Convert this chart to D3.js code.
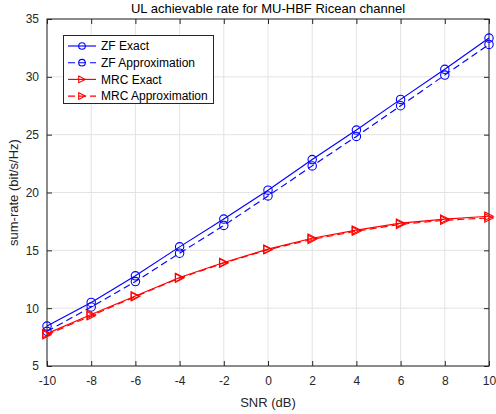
<!DOCTYPE html>
<html>
<head>
<meta charset="utf-8">
<title>UL achievable rate</title>
<style>
body { margin: 0; background: #fff; }
svg { display: block; font-family: "Liberation Sans", Arial, sans-serif; }
</style>
</head>
<body>
<div id="chart"></div>
<script src="https://d3js.org/d3.v7.min.js"></script>
<script>
// data
var snr = [-10, -8, -6, -4, -2, 0, 2, 4, 6, 8, 10];
var zfExact  = [8.45, 10.5, 12.8, 15.3, 17.7, 20.2, 22.85, 25.4, 28.05, 30.65, 33.35];
var zfApprox = [8.0, 10.1, 12.3, 14.75, 17.15, 19.7, 22.3, 24.85, 27.5, 30.15, 32.8];
var mrcExact  = [7.8, 9.45, 11.05, 12.65, 13.95, 15.1, 16.05, 16.75, 17.35, 17.7, 17.95];
var mrcApprox = [7.7, 9.35, 11.0, 12.6, 13.9, 15.05, 15.95, 16.65, 17.25, 17.6, 17.8];
var xTicks = [-10, -8, -6, -4, -2, 0, 2, 4, 6, 8, 10];
var yTicks = [5, 10, 15, 20, 25, 30, 35];

var series = [
  { name: "ZF Exact", values: zfExact, color: "#0000ff", dash: null, marker: "circle" },
  { name: "ZF Approximation", values: zfApprox, color: "#0000ff", dash: "7,4", marker: "circle" },
  { name: "MRC Exact", values: mrcExact, color: "#ff0000", dash: null, marker: "tri" },
  { name: "MRC Approximation", values: mrcApprox, color: "#ff0000", dash: "7,4", marker: "tri" }
];

var W = 496, H = 414;
var pL = 47, pR = 489, pT = 19, pB = 366;

var svg = d3.select("#chart").append("svg")
  .attr("width", W).attr("height", H);

var x = d3.scaleLinear().domain([-10, 10]).range([pL, pR]);
var y = d3.scaleLinear().domain([5, 35]).range([pB, pT]);

// grid
var grid = svg.append("g").attr("stroke", "#e3e3e3").attr("stroke-width", 1);
xTicks.forEach(function(t) {
  grid.append("line").attr("x1", x(t)).attr("x2", x(t)).attr("y1", pT).attr("y2", pB);
});
yTicks.forEach(function(t) {
  grid.append("line").attr("x1", pL).attr("x2", pR).attr("y1", y(t)).attr("y2", y(t));
});

// axes (ticks inside, box on all sides)
var axisColor = "#262626";
var fmt = function(d) { return String(d); };
function styleAxis(g) {
  g.select(".domain").remove();
  g.selectAll(".tick line").attr("stroke", axisColor);
  g.selectAll(".tick text").attr("fill", "#262626").style("font-size", "12px")
    .style("font-family", "Liberation Sans, Arial, sans-serif");
}
svg.append("g").attr("transform", "translate(0," + pB + ")")
  .call(d3.axisBottom(x).tickValues(xTicks).tickSize(-5).tickPadding(10).tickFormat(fmt))
  .call(styleAxis);
svg.append("g").attr("transform", "translate(0," + pT + ")")
  .call(d3.axisTop(x).tickValues(xTicks).tickSize(-5).tickFormat(""))
  .call(styleAxis);
svg.append("g").attr("transform", "translate(" + pL + ",0)")
  .call(d3.axisLeft(y).tickValues(yTicks).tickSize(-5).tickPadding(8).tickFormat(fmt))
  .call(styleAxis);
svg.append("g").attr("transform", "translate(" + pR + ",0)")
  .call(d3.axisRight(y).tickValues(yTicks).tickSize(-5).tickFormat(""))
  .call(styleAxis);
svg.append("rect").attr("x", pL).attr("y", pT)
  .attr("width", pR - pL).attr("height", pB - pT)
  .attr("fill", "none").attr("stroke", axisColor).attr("stroke-width", 1);

// lines and markers
var line = d3.line().x(function(d, i) { return x(snr[i]); }).y(function(d) { return y(d); });

function drawMarker(g, type, cx, cy, color, size) {
  if (type === "circle") {
    g.append("circle").attr("cx", cx).attr("cy", cy).attr("r", size)
      .attr("fill", "none").attr("stroke", color).attr("stroke-width", 1.1);
  } else {
    var s = size;
    g.append("path")
      .attr("d", "M" + (cx - s) + "," + (cy - s) + "L" + (cx + s) + "," + cy + "L" + (cx - s) + "," + (cy + s) + "Z")
      .attr("fill", "none").attr("stroke", color).attr("stroke-width", 1.1);
  }
}

var plot = svg.append("g");
series.forEach(function(s) {
  plot.append("path").datum(s.values)
    .attr("d", line)
    .attr("fill", "none")
    .attr("stroke", s.color)
    .attr("stroke-width", 1.15)
    .attr("stroke-dasharray", s.dash);
  s.values.forEach(function(v, i) {
    drawMarker(plot, s.marker, x(snr[i]), y(v), s.color, 4.2);
  });
});

// legend
var lg = svg.append("g");
lg.append("rect").attr("x", 63.5).attr("y", 35.5).attr("width", 150).attr("height", 68)
  .attr("fill", "#fff").attr("stroke", axisColor).attr("stroke-width", 1);
series.forEach(function(s, i) {
  var ly = 46 + i * 16.7;
  lg.append("line").attr("x1", 68).attr("x2", 96).attr("y1", ly).attr("y2", ly)
    .attr("stroke", s.color).attr("stroke-width", 1.15).attr("stroke-dasharray", s.dash);
  drawMarker(lg, s.marker, 82, ly, s.color, 3.3);
  lg.append("text").attr("x", 101).attr("y", ly).attr("dy", "0.35em")
    .style("font-size", "12px").attr("fill", "#000").text(s.name);
});

// titles
svg.append("text").attr("x", (pL + pR) / 2).attr("y", 8).attr("dy", "0.35em")
  .attr("text-anchor", "middle").style("font-size", "13px").attr("fill", "#000")
  .text("UL achievable rate for MU-HBF Ricean channel");
svg.append("text").attr("x", (pL + pR) / 2).attr("y", 402).attr("dy", "0.35em")
  .attr("text-anchor", "middle").style("font-size", "13px").attr("fill", "#262626")
  .text("SNR (dB)");
svg.append("text").attr("transform", "translate(13," + ((pT + pB) / 2) + ") rotate(-90)")
  .attr("dy", "0.35em").attr("text-anchor", "middle").style("font-size", "13px").attr("fill", "#262626")
  .text("sum-rate (bit/s/Hz)");
</script>
</body>
</html>
